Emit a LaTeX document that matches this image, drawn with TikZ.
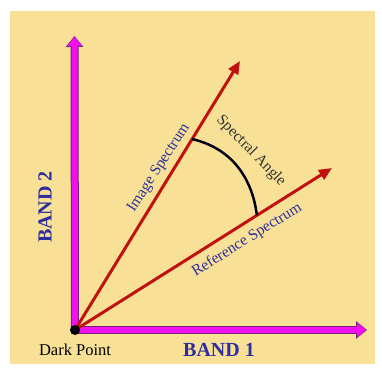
\documentclass[tikz,border=0pt]{standalone}
\usepackage{fontspec}
\setmainfont{Liberation Serif}
\usetikzlibrary{arrows.meta,calc}
\definecolor{bgbeige}{HTML}{F8E196}
\definecolor{axmag}{HTML}{F010F0}
\definecolor{axedge}{HTML}{7A1E7A}
\definecolor{vecred}{HTML}{C01010}
\definecolor{txtblue}{HTML}{2E2E9E}
\definecolor{txtgray}{HTML}{333333}
\tikzset{
  axisout/.style={line width=8pt,color=axedge,-{Triangle[width=17pt,length=11pt]}},
  axisin/.style={line width=6pt,color=axmag,shorten >=1pt,-{Triangle[width=14pt,length=9pt]}},
  vector/.style={line width=3pt,color=vecred,-{Triangle[width=11pt,length=13pt]}},
  anglearc/.style={line width=2.5pt,color=black!90!blue},
  bandlabel/.style={font=\fontsize{20}{22}\selectfont\bfseries,text=txtblue,inner sep=0pt},
  veclabel/.style={font=\fontsize{15.5}{17}\selectfont,text=txtblue,inner sep=0pt},
  anglabel/.style={font=\fontsize{15.5}{17}\selectfont,text=txtgray,inner sep=0pt},
  ptlabel/.style={font=\fontsize{16.5}{18}\selectfont,text=black,inner sep=0pt}
}
\begin{document}
\begin{tikzpicture}[x=1pt,y=1pt]
\useasboundingbox (0,0) rectangle (382,374);
\fill[white] (0,0) rectangle (382,374);
\fill[bgbeige] (10,10) rectangle (375,363);
% coordinates
\coordinate (O) at (75,44);
\coordinate (Ytip) at (74.5,338);
\coordinate (Xtip) at (367,44);
\coordinate (I) at (240,313);
\coordinate (R) at (332,206);
\coordinate (a1) at ($(O)!224pt!(I)$);
\coordinate (a2) at ($(O)!215pt!(R)$);
% axes
\draw[axisout] (O) -- (Ytip);
\draw[axisout] (O) -- (Xtip);
\draw[axisin] (O) -- (Ytip);
\draw[axisin] (O) -- (Xtip);
% vectors
\draw[vector] (O) -- (I);
\draw[vector] (O) -- (R);
% angle arc
\draw[anglearc] (a1) to[out=-13,in=97] (a2);
% dark point
\node[circle,fill=black,minimum size=10pt,inner sep=0pt] (dp) at (O) {};
% labels
\node[ptlabel] (dpl) at (75,24) {Dark Point};
\node[bandlabel] (b1) at (219,24) {BAND 1};
\node[bandlabel,rotate=90] (b2) at (45,167) {BAND 2};
\node[veclabel,rotate=57] (isl) at (159,206) {Image Spectrum};
\node[veclabel,rotate=32] (rsl) at (247,134) {Reference Spectrum};
\node[anglabel,rotate=-46] (sal) at (251,223) {Spectral Angle};
\end{tikzpicture}
\end{document}
